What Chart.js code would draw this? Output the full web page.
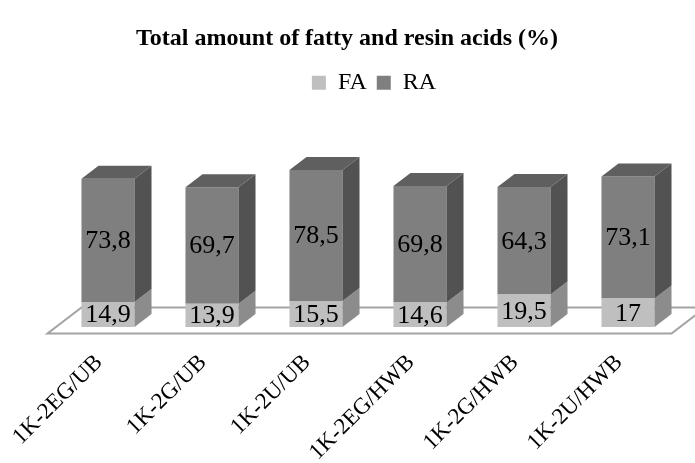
<!DOCTYPE html>
<html>
<head>
<meta charset="utf-8">
<script src="https://cdn.jsdelivr.net/npm/chart.js@4.4.1/dist/chart.umd.min.js"></script>
<style>
  html, body { margin: 0; padding: 0; background: #fff; }
  #wrap { width: 695px; height: 463px; }
</style>
</head>
<body>
<div id="wrap"><canvas id="acidsChart"></canvas></div>
<script>
// data
const samples = ['1K-2EG/UB', '1K-2G/UB', '1K-2U/UB', '1K-2EG/HWB', '1K-2G/HWB', '1K-2U/HWB'];
const fattyAcids = [14.9, 13.9, 15.5, 14.6, 19.5, 17];
const resinAcids = [73.8, 69.7, 78.5, 69.8, 64.3, 73.1];
const seriesNames = ['FA', 'RA'];

const serif = "'Liberation Serif', 'Times New Roman', serif";
const frontColors = ['#bfbfbf', '#7f7f7f'];
const sideColors = ['#8c8c8c', '#525252'];
const topColor = '#5f5f5f';
const depthX = 17, depthY = 13;

// fake 3D: floor under the bars, side and top faces, value labels
const box3d = {
    id: 'box3d',
    afterLayout(chart) {
        // title and legend are not centred on the plot area in the original
        chart.titleBlock.left -= 21;
        chart.titleBlock.right -= 21;
        chart.legend.left += 6;
        chart.legend.right += 6;
    },
    beforeDatasetsDraw(chart) {
        const { ctx, chartArea: a, scales } = chart;
        const y0 = scales.y.getPixelForValue(0);
        ctx.save();
        ctx.beginPath();
        ctx.moveTo(a.left - depthX / 2, y0 + depthY / 2);
        ctx.lineTo(a.right - depthX / 2, y0 + depthY / 2);
        ctx.lineTo(a.right + depthX * 1.5, y0 - depthY * 1.5);
        ctx.lineTo(a.left + depthX * 1.5, y0 - depthY * 1.5);
        ctx.closePath();
        ctx.fillStyle = '#ffffff';
        ctx.fill();
        ctx.strokeStyle = '#a3a3a3';
        ctx.lineWidth = 2;
        ctx.stroke();
        ctx.restore();
    },
    afterDatasetsDraw(chart) {
        const ctx = chart.ctx;
        const last = chart.data.datasets.length - 1;
        ctx.save();
        chart.data.datasets.forEach((ds, i) => {
            chart.getDatasetMeta(i).data.forEach(bar => {
                const left = bar.x - bar.width / 2;
                const right = bar.x + bar.width / 2;
                const top = Math.min(bar.y, bar.base);
                const bottom = Math.max(bar.y, bar.base);

                ctx.beginPath();
                ctx.moveTo(right, bottom);
                ctx.lineTo(right, top);
                ctx.lineTo(right + depthX, top - depthY);
                ctx.lineTo(right + depthX, bottom - depthY);
                ctx.closePath();
                ctx.fillStyle = sideColors[i];
                ctx.fill();

                if (i === last) {
                    ctx.beginPath();
                    ctx.moveTo(left, top);
                    ctx.lineTo(left + depthX, top - depthY);
                    ctx.lineTo(right + depthX, top - depthY);
                    ctx.lineTo(right, top);
                    ctx.closePath();
                    ctx.fillStyle = topColor;
                    ctx.fill();
                }
            });
        });

        ctx.font = '26px ' + serif;
        ctx.fillStyle = '#000';
        ctx.textAlign = 'center';
        ctx.textBaseline = 'middle';
        chart.data.datasets.forEach((ds, i) => {
            chart.getDatasetMeta(i).data.forEach((bar, j) => {
                const label = String(ds.data[j]).replace('.', ',');
                ctx.fillText(label, bar.x, (bar.y + bar.base) / 2 + 1);
            });
        });
        ctx.restore();
    }
};

new Chart(document.getElementById('acidsChart'), {
    type: 'bar',
    data: {
        labels: samples,
        datasets: [
            { label: seriesNames[0], data: fattyAcids, backgroundColor: frontColors[0] },
            { label: seriesNames[1], data: resinAcids, backgroundColor: frontColors[1] }
        ]
    },
    options: {
        responsive: true,
        maintainAspectRatio: false,
        animation: false,
        layout: { padding: { left: 56, right: 15, top: 0, bottom: 0 } },
        datasets: {
            bar: { categoryPercentage: 1, barPercentage: 0.51, borderWidth: 0 }
        },
        scales: {
            x: {
                stacked: true,
                grid: { display: false, drawTicks: false },
                border: { display: false },
                ticks: {
                    color: '#000',
                    font: { family: serif, size: 23 },
                    minRotation: 45,
                    maxRotation: 45,
                    padding: 22,
                    labelOffset: -9
                },
                afterFit(scale) {
                    scale.height = 136;
                    scale.paddingLeft = 0;
                    scale.paddingRight = 0;
                }
            },
            y: {
                stacked: true,
                display: false,
                min: 0,
                max: 133
            }
        },
        plugins: {
            title: {
                display: true,
                text: 'Total amount of fatty and resin acids (%)',
                color: '#000',
                font: { family: serif, size: 24, weight: 'bold' },
                padding: { top: 24, bottom: 8 }
            },
            legend: {
                labels: {
                    color: '#000',
                    boxWidth: 14,
                    boxHeight: 14,
                    padding: 10,
                    font: { family: serif, size: 24 }
                }
            },
            tooltip: { enabled: false }
        }
    },
    plugins: [box3d]
});
</script>
</body>
</html>
